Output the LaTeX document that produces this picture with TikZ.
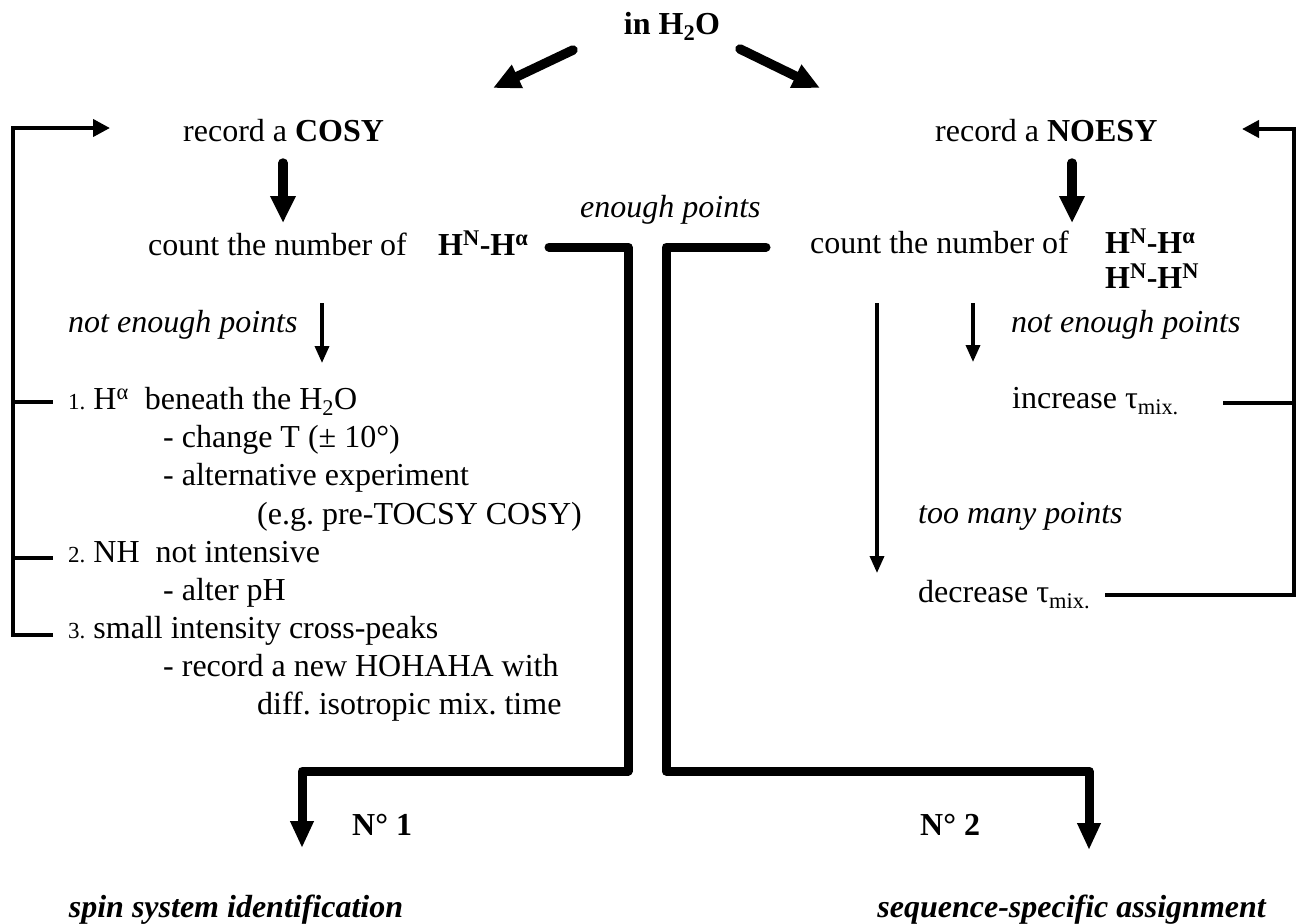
\documentclass[tikz,border=0pt]{standalone}
\usepackage{fontspec}
\setmainfont{Liberation Serif}
\usetikzlibrary{arrows.meta}
\frenchspacing
\begin{document}
\begin{tikzpicture}[x=1pt,y=-1pt,
  txt/.style={inner sep=0pt, font=\fontsize{32}{38}\selectfont},
  blockarrow/.style={line width=9.5pt, line cap=round, -{Triangle[width=24pt,length=27pt]}},
  bracket/.style={line width=9pt, line cap=round, line join=round, -{Triangle[width=22pt,length=27pt]}},
  loopline/.style={line width=4pt},
  thinarrow/.style={line width=3.5pt, -{Triangle[width=14pt,length=17pt]}}]
\useasboundingbox (0,0) rectangle (1299,924);
% top
\node[txt,anchor=base] (h2o) at (672,34) {\textbf{in H\textsubscript{2}O}};
\coordinate (aLs) at (573,50); \coordinate (aLe) at (493,88);
\coordinate (aRs) at (740,49); \coordinate (aRe) at (820,88);
\draw[blockarrow] (aLs) -- (aLe);
\draw[blockarrow] (aRs) -- (aRe);
% COSY branch
\node[txt,anchor=base west] (cosy) at (183,141) {record a \textbf{COSY}};
\coordinate (c1) at (283,163); \coordinate (c2) at (283,223);
\draw[blockarrow] (c1) -- (c2);
\node[txt,anchor=base west] (cntL) at (148,255) {count the number of};
\node[txt,anchor=base west] (hhL) at (438,255) {\textbf{H\textsuperscript{N}-H\textsuperscript{α}}};
\node[txt,anchor=base west] (neL) at (68,332) {\textit{not enough points}};
\coordinate (n1) at (322,303); \coordinate (n2) at (322,363);
\draw[thinarrow] (n1) -- (n2);
% list
\node[txt,anchor=base west] (l1) at (68,409) {{\fontsize{23}{27}\selectfont 1.} H\textsuperscript{α}\ \ beneath the H\textsubscript{2}O};
\node[txt,anchor=base west] (l2) at (163,447) {- change T (± 10°)};
\node[txt,anchor=base west] (l3) at (163,485) {- alternative experiment};
\node[txt,anchor=base west] (l4) at (257,524) {(e.g. pre-TOCSY COSY)};
\node[txt,anchor=base west] (l5) at (68,562) {{\fontsize{23}{27}\selectfont 2.} NH\ \ not intensive};
\node[txt,anchor=base west] (l6) at (163,600) {- alter pH};
\node[txt,anchor=base west] (l7) at (68,638) {{\fontsize{23}{27}\selectfont 3.} small intensity cross-peaks};
\node[txt,anchor=base west] (l8) at (163,676) {- record a new HOHAHA with};
\node[txt,anchor=base west] (l9) at (257,714) {diff. isotropic mix. time};
% left loop
\coordinate (p1) at (53,635); \coordinate (p2) at (13,635);
\coordinate (p3) at (13,128); \coordinate (p4) at (110,128);
\draw[loopline, -{Triangle[width=17pt,length=17pt]}] (p1) -- (p2) -- (p3) -- (p4);
\coordinate (t1a) at (13,402); \coordinate (t1b) at (53,402);
\coordinate (t2a) at (13,558); \coordinate (t2b) at (53,558);
\draw[loopline] (t1a) -- (t1b);
\draw[loopline] (t2a) -- (t2b);
% NOESY branch
\node[txt,anchor=base west] (noesy) at (935,141) {record a \textbf{NOESY}};
\coordinate (r1) at (1072,163); \coordinate (r2) at (1072,223);
\draw[blockarrow] (r1) -- (r2);
\node[txt,anchor=base west] (cntR) at (810,253) {count the number of};
\node[txt,anchor=base west] (hhR1) at (1105,253) {\textbf{H\textsuperscript{N}-H\textsuperscript{α}}};
\node[txt,anchor=base west] (hhR2) at (1105,288) {\textbf{H\textsuperscript{N}-H\textsuperscript{N}}};
\node[txt,anchor=base west] (neR) at (1011,332) {\textit{not enough points}};
\coordinate (s1) at (973,303); \coordinate (s2) at (973,362);
\draw[thinarrow] (s1) -- (s2);
\coordinate (g1) at (877,303); \coordinate (g2) at (877,573);
\draw[thinarrow] (g1) -- (g2);
\node[txt,anchor=base west] (inc) at (1012,408) {increase τ\textsubscript{mix.}};
\node[txt,anchor=base west] (tmp) at (918,523) {\textit{too many points}};
\node[txt,anchor=base west] (dec) at (918,602) {decrease τ\textsubscript{mix.}};
% right loop
\coordinate (q1) at (1105,595); \coordinate (q2) at (1294,595);
\coordinate (q3) at (1294,129); \coordinate (q4) at (1242,129);
\draw[loopline, -{Triangle[width=17pt,length=17pt]}] (q1) -- (q2) -- (q3) -- (q4);
\coordinate (u1) at (1223,403); \coordinate (u2) at (1294,403);
\draw[loopline] (u1) -- (u2);
% enough points brackets
\node[txt,anchor=base west] (ep) at (580,217) {\textit{enough points}};
\coordinate (b1) at (549,247); \coordinate (b2) at (628,247);
\coordinate (b3) at (628,771); \coordinate (b4) at (302,771); \coordinate (b5) at (302,848);
\draw[bracket] (b1) -- (b2) -- (b3) -- (b4) -- (b5);
\coordinate (d1) at (766,247); \coordinate (d2) at (666,247);
\coordinate (d3) at (666,771); \coordinate (d4) at (1089,771); \coordinate (d5) at (1089,850);
\draw[bracket] (d1) -- (d2) -- (d3) -- (d4) -- (d5);
% bottom
\node[txt,anchor=base west] (no1) at (352,835) {\textbf{N° 1}};
\node[txt,anchor=base west] (no2) at (920,835) {\textbf{N° 2}};
\node[txt,anchor=base] (res1) at (236,917) {\textbf{\textit{spin system identification}}};
\node[txt,anchor=base] (res2) at (1072,917) {\textbf{\textit{sequence-specific assignment}}};
\end{tikzpicture}
\end{document}
